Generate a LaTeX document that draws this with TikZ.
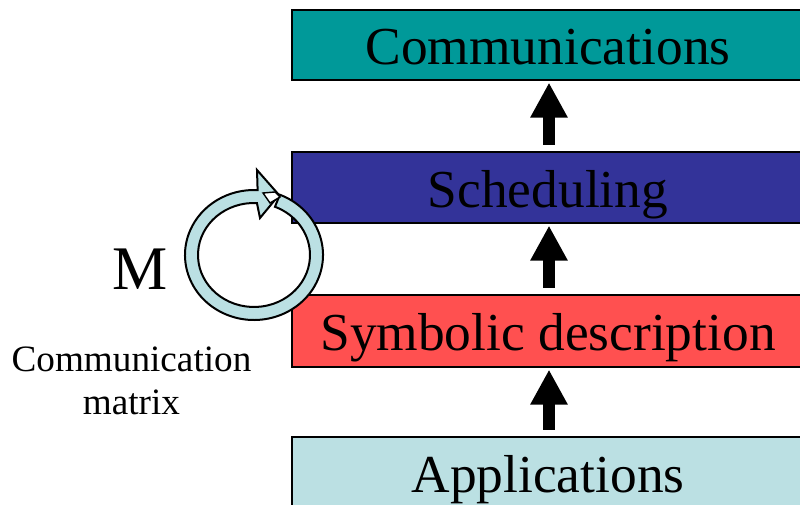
\documentclass[tikz,border=0pt]{standalone}
\usepackage{fontspec}
\setmainfont{Liberation Serif}
\usetikzlibrary{arrows.meta}
\definecolor{commteal}{HTML}{009999}
\definecolor{schedblue}{HTML}{333399}
\definecolor{symbred}{HTML}{FF5050}
\definecolor{applight}{HTML}{BBE0E3}
\begin{document}
\begin{tikzpicture}[x=1pt,y=1pt,
  layer/.style={draw=black, line width=1.6pt, rectangle, anchor=north west,
    inner sep=0pt, minimum width=530pt},
  boxlabel/.style={anchor=base, inner sep=0pt, font=\fontsize{53.4}{60}\selectfont},
  uparrow/.style={line width=12pt, -{Triangle[width=35pt,length=35pt]}},
  ringpart/.style={fill=applight, draw=black, line width=2pt, line join=miter},
]
\useasboundingbox (0,0) rectangle (800,505);
\clip (0,0) rectangle (800,505);

% the four layers of the stack
\node[layer, fill=commteal,  minimum height=70pt] (comm)  at (291,496) {};
\node[layer, fill=schedblue, minimum height=71pt] (sched) at (291,354) {};
\node[layer, fill=symbred,   minimum height=72pt] (symb)  at (291,211) {};
\node[layer, fill=applight,  minimum height=80pt] (apps)  at (291,69)  {};

\node[boxlabel] (commtxt)  at (548,440) {Communications};
\node[boxlabel] (schedtxt) at (548,297) {Scheduling};
\node[boxlabel] (symbtxt)  at (548,154) {Symbolic description};
\node[boxlabel] (appstxt)  at (548,12)  {Applications};

% block arrows between layers
\coordinate (ax) at (549,0);
\draw[uparrow] ([yshift=6pt]sched.north -| ax) -- ([yshift=-2pt]comm.south -| ax);
\draw[uparrow] ([yshift=6pt]symb.north -| ax)  -- ([yshift=-2pt]sched.south -| ax);
\draw[uparrow] ([yshift=6pt]apps.north -| ax)  -- ([yshift=-2pt]symb.south -| ax);

% circular arrow for the communication matrix
\coordinate (rc) at (254,250);
\path[ringpart]
  ([shift={(68:69 and 65)}]rc)
  arc[start angle=68, end angle=-273, x radius=69, y radius=65]
  -- (257,335) -- (279,310) -- (260,287)
  -- ([shift={(-273:56 and 52)}]rc)
  arc[start angle=-273, end angle=68, x radius=56, y radius=52]
  -- cycle;
\filldraw[fill=white, draw=black, line width=1.4pt]
  (263,312) -- (275,313) -- (280,308) -- (270,302) -- cycle;

\node[anchor=base, inner sep=0pt, font=\fontsize{62}{70}\selectfont] (mlabel) at (140.5,215) {M};
\node[anchor=base, inner sep=0pt, align=center, font=\fontsize{37.2}{43}\selectfont]
  (matlabel) at (131.5,90) {Communication\\matrix};
\end{tikzpicture}
\end{document}
